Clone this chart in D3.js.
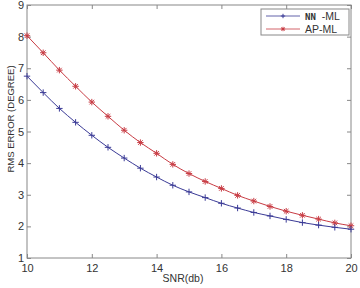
<!DOCTYPE html>
<html>
<head>
<meta charset="utf-8">
<script src="https://cdn.jsdelivr.net/npm/d3@7"></script>
<style>
  body { margin: 0; background: #fff; }
  text { font-family: "Liberation Sans", Arial, sans-serif; fill: #333; }
</style>
</head>
<body>
<div id="chart"></div>
<script>
    var width = 360,
        height = 288;

    // data
    var snr = [10, 10.5, 11, 11.5, 12, 12.5, 13, 13.5, 14, 14.5, 15, 15.5, 16, 16.5, 17, 17.5, 18, 18.5, 19, 19.5, 20];
    var nnML = [6.75, 6.23, 5.73, 5.29, 4.88, 4.50, 4.16, 3.84, 3.56, 3.30, 3.09, 2.91, 2.73, 2.58, 2.44, 2.33, 2.22, 2.12, 2.04, 1.97, 1.91];
    var apML = [8.03, 7.49, 6.94, 6.43, 5.93, 5.48, 5.04, 4.65, 4.31, 3.96, 3.67, 3.42, 3.20, 2.98, 2.80, 2.63, 2.48, 2.35, 2.23, 2.11, 2.02];
    var seriesNames = ["NN", "-ML", "AP-ML"];
    var xTicks = [10, 12, 14, 16, 18, 20];
    var yTicks = [1, 2, 3, 4, 5, 6, 7, 8, 9];

    var colors = { nn: "#3a3a96", ap: "#c83c44", axis: "#888" };

    var margin = { left: 27, right: 9, top: 5, bottom: 30 };

    var x = d3.scaleLinear().domain([10, 20]).range([margin.left, width - margin.right]);
    var y = d3.scaleLinear().domain([1, 9]).range([height - margin.bottom, margin.top]);

    var svg = d3.select("#chart").append("svg")
      .attr("width", width)
      .attr("height", height);

    // plot box
    svg.append("rect")
      .attr("x", x(10)).attr("y", y(9))
      .attr("width", x(20) - x(10)).attr("height", y(1) - y(9))
      .attr("fill", "none").attr("stroke", colors.axis).attr("stroke-width", 1);

    // axes with inward ticks, plus mirrored ticks on top and right
    var gBottom = svg.append("g")
      .attr("transform", "translate(0," + y(1) + ")")
      .call(d3.axisBottom(x).tickValues(xTicks).tickSizeInner(-4).tickSizeOuter(0).tickPadding(6));
    var gTop = svg.append("g")
      .attr("transform", "translate(0," + y(9) + ")")
      .call(d3.axisTop(x).tickValues(xTicks).tickSizeInner(-4).tickSizeOuter(0).tickFormat(""));
    var gLeft = svg.append("g")
      .attr("transform", "translate(" + x(10) + ",0)")
      .call(d3.axisLeft(y).tickValues(yTicks).tickSizeInner(-4).tickSizeOuter(0).tickPadding(3));
    var gRight = svg.append("g")
      .attr("transform", "translate(" + x(20) + ",0)")
      .call(d3.axisRight(y).tickValues(yTicks).tickSizeInner(-4).tickSizeOuter(0).tickFormat(""));

    [gBottom, gTop, gLeft, gRight].forEach(function(g) {
      g.select(".domain").remove();
      g.selectAll("line").attr("stroke", colors.axis);
      g.selectAll("text").style("font-size", "11px").attr("fill", "#444");
    });

    var line = d3.line()
      .x(function(d) { return x(d[0]); })
      .y(function(d) { return y(d[1]); })
      .curve(d3.curveMonotoneX);

    function plus(g, cx, cy, s, col) {
      g.append("path")
        .attr("d", "M" + (cx - s) + "," + cy + "H" + (cx + s) + "M" + cx + "," + (cy - s) + "V" + (cy + s))
        .attr("stroke", col).attr("stroke-width", 1).attr("fill", "none");
    }
    function star(g, cx, cy, s, col) {
      var d = s * 0.72;
      g.append("path")
        .attr("d", "M" + (cx - s) + "," + cy + "H" + (cx + s) + "M" + cx + "," + (cy - s) + "V" + (cy + s) +
          "M" + (cx - d) + "," + (cy - d) + "L" + (cx + d) + "," + (cy + d) +
          "M" + (cx - d) + "," + (cy + d) + "L" + (cx + d) + "," + (cy - d))
        .attr("stroke", col).attr("stroke-width", 1).attr("fill", "none");
    }

    var nnData = snr.map(function(s, i) { return [s, nnML[i]]; });
    var apData = snr.map(function(s, i) { return [s, apML[i]]; });

    svg.append("path").datum(apData)
      .attr("d", line).attr("fill", "none").attr("stroke", colors.ap).attr("stroke-width", 1);
    svg.append("path").datum(nnData)
      .attr("d", line).attr("fill", "none").attr("stroke", colors.nn).attr("stroke-width", 1);

    var marks = svg.append("g");
    apData.forEach(function(d) { star(marks, x(d[0]), y(d[1]), 3.2, colors.ap); });
    nnData.forEach(function(d) { plus(marks, x(d[0]), y(d[1]), 3.2, colors.nn); });

    // legend
    var lg = svg.append("g");
    lg.append("rect")
      .attr("x", 261).attr("y", 9).attr("width", 88).attr("height", 26)
      .attr("fill", "#fff").attr("stroke", colors.axis).attr("stroke-width", 1);
    var rows = [{ col: colors.nn, mk: plus, yy: 16 },
                { col: colors.ap, mk: star, yy: 29 }];
    rows.forEach(function(r) {
      lg.append("line").attr("x1", 266).attr("x2", 300).attr("y1", r.yy).attr("y2", r.yy)
        .attr("stroke", r.col).attr("stroke-width", 0.8);
      r.mk(lg, 283, r.yy, 2.2, r.col);
    });
    var t1 = lg.append("text").attr("x", 305).attr("y", rows[0].yy + 4).style("font-size", "10.5px");
    t1.append("tspan").style("font-weight", "bold").style("font-family", "DejaVu Sans Mono, monospace")
      .style("font-size", "9px").text(seriesNames[0]);
    t1.append("tspan").attr("dx", 6).text(seriesNames[1]);
    lg.append("text").attr("x", 305).attr("y", rows[1].yy + 4).style("font-size", "10.5px")
      .text(seriesNames[2]);

    // axis titles
    svg.append("text")
      .attr("x", 183).attr("y", 282)
      .attr("text-anchor", "middle").style("font-size", "10.5px")
      .text("SNR(db)");
    svg.append("text")
      .attr("transform", "translate(14,119) rotate(-90)")
      .attr("text-anchor", "middle").style("font-size", "9.5px")
      .text("RMS  ERROR (DEGREE)");
</script>
</body>
</html>
